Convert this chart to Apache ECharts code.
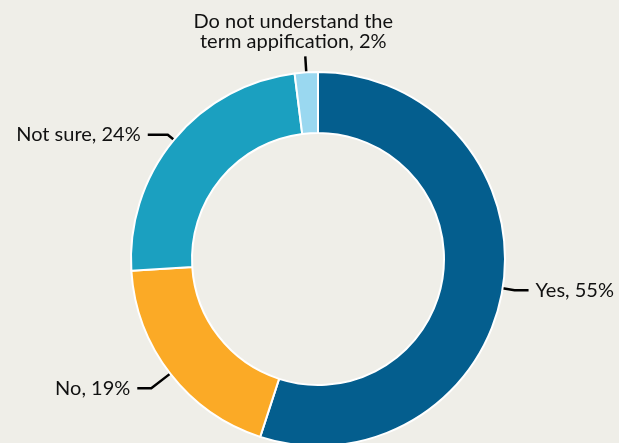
<!DOCTYPE html>
<html><head><meta charset="utf-8">
<script src="https://cdn.jsdelivr.net/npm/echarts@6/dist/echarts.min.js"></script>
<style>html,body{margin:0;padding:0;background:#EFEEE8;}#c{width:619px;height:443px;}</style>
</head><body><div id="c"></div>
<script>
var categories = ['Yes', 'No', 'Not sure', 'Do not understand the\nterm appification'];
var values = [55, 19, 24, 2];
var colors = ['#045E8E', '#FBAA26', '#1BA0C0', '#9AD8F0'];

var chart = echarts.init(document.getElementById('c'));
var data = categories.map(function (c, i) {
  return { name: c, value: values[i], itemStyle: { color: colors[i] } };
});
data[0].labelLine = { length: 12, length2: 14 };
data[1].labelLine = { length: 24, length2: 14 };
data[2].labelLine = { length: 8, length2: 20 };
data[3].labelLine = { length: 16, length2: 0 };

chart.setOption({
  backgroundColor: '#EFEEE8',
  animation: false,
  series: [{
    type: 'pie',
    center: [318, 259],
    radius: [126, 187],
    startAngle: 90,
    clockwise: true,
    avoidLabelOverlap: false,
    data: data,
    itemStyle: { borderColor: '#ffffff', borderWidth: 2 },
    label: {
      show: true,
      position: 'outside',
      formatter: function (p) { return p.name + ', ' + p.value + '%'; },
      color: '#111111',
      fontFamily: 'Lato',
      fontSize: 20,
      lineHeight: 20,
      distanceToLabelLine: 7
    },
    labelLine: {
      show: true,
      lineStyle: { color: '#000000', width: 2.5 }
    },
    labelLayout: function (p) {
      if (p.dataIndex === 3) {
        var pts = p.labelLinePoints;
        var end = pts[pts.length - 1];
        return { x: end[0] - 12, y: end[1] - 5, align: 'center', verticalAlign: 'bottom', labelLinePoints: pts };
      }
      return {};
    },
    emphasis: { disabled: true }
  }]
});
</script></body></html>
